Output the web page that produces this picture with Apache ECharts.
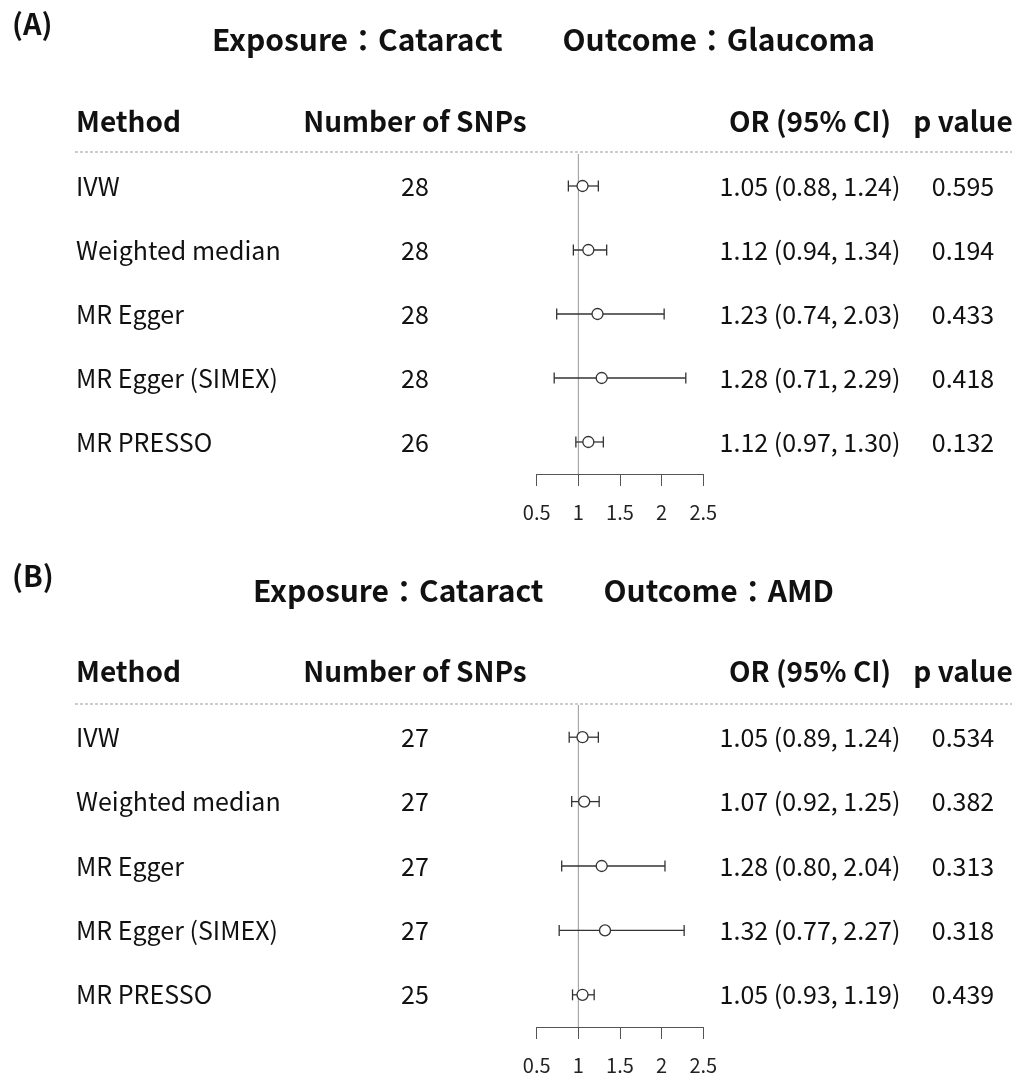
<!DOCTYPE html>
<html>
<head>
<meta charset="utf-8">
<script src="https://cdn.jsdelivr.net/npm/echarts@6/dist/echarts.min.js"></script>
<style>
  html, body { margin: 0; padding: 0; background: #fff; }
  #main { width: 1030px; height: 1075px; }
</style>
</head>
<body>
<div id="main"></div>
<script>
// ---- data ----
const methods = ['IVW', 'Weighted median', 'MR Egger', 'MR Egger (SIMEX)', 'MR PRESSO'];
const headers = ['Method', 'Number of SNPs', 'OR (95% CI)', 'p value'];
const panelTags = ['(A)', '(B)'];
const exposures = ['Cataract', 'Cataract'];
const outcomes = ['Glaucoma', 'AMD'];

const snpsA = [28, 28, 28, 28, 26];
const orA = [1.05, 1.12, 1.23, 1.28, 1.12];
const lowerA = [0.88, 0.94, 0.74, 0.71, 0.97];
const upperA = [1.24, 1.34, 2.03, 2.29, 1.30];
const pA = ['0.595', '0.194', '0.433', '0.418', '0.132'];

const snpsB = [27, 27, 27, 27, 25];
const orB = [1.05, 1.07, 1.28, 1.32, 1.05];
const lowerB = [0.89, 0.92, 0.80, 0.77, 0.93];
const upperB = [1.24, 1.25, 2.04, 2.27, 1.19];
const pB = ['0.534', '0.382', '0.313', '0.318', '0.439'];

const xTicks = [0.5, 1, 1.5, 2, 2.5];
const refValue = 1;

// ---- layout ----
const FONT = '"Noto Sans CJK JP", "Noto Sans", sans-serif';
const TEXT = '#111';
const INK = '#333';
const PLOT_L = 536.7, PLOT_R = 703.3;
const COL_METHOD = 76, COL_SNP = 415, COL_OR = 810, COL_P = 963;
const RULE_L = 75, RULE_R = 1012;
const ROW_FONT = 25, HEAD_FONT = 28, TITLE_FONT = 30, TAG_FONT = 29, TICK_FONT = 20;

const panels = [
  { snps: snpsA, or: orA, lo: lowerA, hi: upperA, p: pA,
    top: 154, height: 320, tagY: 24, titleY: 40, headY: 121, ruleY: 152 },
  { snps: snpsB, or: orB, lo: lowerB, hi: upperB, p: pB,
    top: 705, height: 322, tagY: 576, titleY: 591, headY: 671, ruleY: 704 }
];

const fmt = v => v.toFixed(2);

const grid = [], xAxis = [], yAxis = [], series = [], graphic = [];

panels.forEach((pn, k) => {
  grid.push({
    left: PLOT_L, width: PLOT_R - PLOT_L, top: pn.top, height: pn.height,
    containLabel: false, outerBoundsMode: 'none'
  });

  xAxis.push({
    type: 'value', gridIndex: k,
    min: xTicks[0], max: xTicks[xTicks.length - 1], interval: xTicks[1] - xTicks[0],
    axisLine: { show: true, lineStyle: { color: '#555', width: 1 } },
    axisTick: { show: true, length: 12, lineStyle: { color: '#555', width: 1 } },
    axisLabel: { fontFamily: FONT, fontSize: TICK_FONT, color: '#222', margin: 28 },
    splitLine: { show: false }
  });

  const base = k * 5;
  const labelAxis = (data, position, align, margin) => ({
    type: 'category', gridIndex: k, data, inverse: true, position,
    axisLine: { show: false }, axisTick: { show: false }, splitLine: { show: false },
    axisLabel: { show: true, interval: 0, align, margin,
      fontFamily: FONT, fontSize: ROW_FONT, color: TEXT }
  });
  // row axis used by the marks
  yAxis.push({
    type: 'category', gridIndex: k, data: methods, inverse: true, position: 'left',
    axisLine: { show: false }, axisTick: { show: false }, axisLabel: { show: false },
    splitLine: { show: false }
  });
  // text columns
  yAxis.push(labelAxis(methods, 'left', 'left', PLOT_L - COL_METHOD));
  yAxis.push(labelAxis(pn.snps.map(String), 'left', 'center', PLOT_L - COL_SNP));
  yAxis.push(labelAxis(pn.or.map((v, i) => `${fmt(v)} (${fmt(pn.lo[i])}, ${fmt(pn.hi[i])})`),
    'right', 'center', COL_OR - PLOT_R));
  yAxis.push(labelAxis(pn.p, 'right', 'center', COL_P - PLOT_R));

  // reference line at OR = 1, spanning the plot height
  series.push({
    type: 'custom', xAxisIndex: k, yAxisIndex: base, z: 1, silent: true,
    data: [[refValue, 0]],
    encode: { x: 0, y: 1 },
    renderItem(params, api) {
      const p = api.coord([api.value(0), 0]);
      const cs = params.coordSys;
      return { type: 'line',
        shape: { x1: p[0], y1: cs.y, x2: p[0], y2: cs.y + cs.height },
        style: { stroke: '#999', lineWidth: 1 } };
    }
  });

  // confidence intervals with end caps
  series.push({
    type: 'custom', xAxisIndex: k, yAxisIndex: base, z: 2, silent: true,
    data: pn.lo.map((lo, i) => [lo, pn.hi[i], i]),
    encode: { x: [0, 1], y: 2 },
    renderItem(params, api) {
      const row = api.value(2);
      const a = api.coord([api.value(0), row]);
      const b = api.coord([api.value(1), row]);
      const h = 5.5;
      const style = { stroke: INK, lineWidth: 1.3, fill: null };
      return { type: 'group', children: [
        { type: 'line', shape: { x1: a[0], y1: a[1], x2: b[0], y2: b[1] }, style },
        { type: 'line', shape: { x1: a[0], y1: a[1] - h, x2: a[0], y2: a[1] + h }, style },
        { type: 'line', shape: { x1: b[0], y1: b[1] - h, x2: b[0], y2: b[1] + h }, style }
      ] };
    }
  });

  // point estimates
  series.push({
    type: 'scatter', xAxisIndex: k, yAxisIndex: base, z: 3, silent: true,
    symbol: 'circle', symbolSize: 11,
    itemStyle: { color: '#fff', borderColor: INK, borderWidth: 1.3, opacity: 1 },
    data: pn.or.map((v, i) => [v, i])
  });

  // panel tag, title, header row, dashed rule
  graphic.push({ type: 'text', x: 12, y: pn.tagY,
    style: { text: panelTags[k], font: `bold ${TAG_FONT}px ${FONT}`, fill: TEXT,
      textAlign: 'left', textVerticalAlign: 'middle' } });
  graphic.push({ type: 'text', x: (RULE_L + RULE_R) / 2, y: pn.titleY,
    style: { text: `Exposure：${exposures[k]}\u3000\u3000Outcome：${outcomes[k]}`,
      font: `bold ${TITLE_FONT}px ${FONT}`, fill: TEXT,
      textAlign: 'center', textVerticalAlign: 'middle' } });
  const headX = [COL_METHOD, COL_SNP, COL_OR, COL_P];
  headers.forEach((h, j) => {
    graphic.push({ type: 'text', x: headX[j], y: pn.headY,
      style: { text: h, font: `bold ${HEAD_FONT}px ${FONT}`, fill: TEXT,
        textAlign: j === 0 ? 'left' : 'center', textVerticalAlign: 'middle' } });
  });
  graphic.push({ type: 'line', shape: { x1: RULE_L, y1: pn.ruleY, x2: RULE_R, y2: pn.ruleY },
    style: { stroke: '#999', lineWidth: 1, lineDash: [3, 2] } });
});

const chart = echarts.init(document.getElementById('main'), null, { renderer: 'canvas' });
chart.setOption({
  animation: false,
  backgroundColor: '#fff',
  grid, xAxis, yAxis, series, graphic
});
</script>
</body>
</html>
